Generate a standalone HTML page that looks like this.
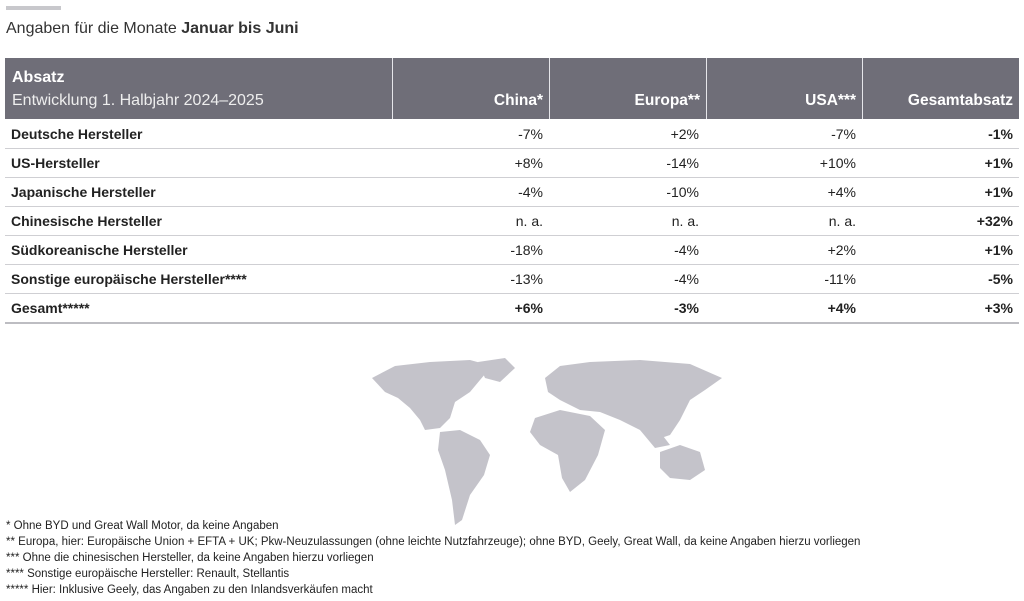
<!DOCTYPE html>
<html><head><meta charset="utf-8"><style>
body{margin:0;width:1024px;height:601px;background:#fff;font-family:"Liberation Sans",sans-serif;position:relative;overflow:hidden;color:#222}
.bar{position:absolute;left:6px;top:6px;width:55px;height:4px;background:#c8c8cc}
.title{position:absolute;left:6px;top:20px;font-size:16px;color:#333}
.hdr{position:absolute;left:5px;top:58px;width:1014px;height:61px;background:#6f6e78}
.hc{position:absolute;top:0;height:61px;border-left:1px solid #e6e6ea;color:#fff;font-weight:bold;font-size:15.5px;box-sizing:border-box}
.hc span{position:absolute;right:6px;bottom:9px}
.row{position:absolute;left:5px;width:1014px;height:29px;border-bottom:1px solid #cfcfd3;font-size:14px}
.row div{position:absolute;top:7px}
.l{left:6px;font-weight:bold}
.c1{right:476px}.c2{right:320px}.c3{right:163px}.c4{right:6px;font-weight:bold}
.b{font-weight:bold}
.fn{position:absolute;left:6px;top:519px;font-size:11.5px;line-height:15.9px;color:#222}
</style></head><body>
<div class="bar"></div>
<div class="title">Angaben für die Monate <b>Januar bis Juni</b></div>
<div class="hdr">
<div style="position:absolute;left:7px;top:8px;color:#fff;font-size:16px;line-height:23px"><b>Absatz</b><br><span style="color:#eee">Entwicklung 1. Halbjahr 2024–2025</span></div>
<div class="hc" style="left:387px;width:157px"><span>China*</span></div>
<div class="hc" style="left:544px;width:157px"><span>Europa**</span></div>
<div class="hc" style="left:701px;width:156px"><span>USA***</span></div>
<div class="hc" style="left:857px;width:157px"><span>Gesamtabsatz</span></div>
</div>
<div class="row" style="top:119px"><div class="l">Deutsche Hersteller</div><div class="c1">-7%</div><div class="c2">+2%</div><div class="c3">-7%</div><div class="c4">-1%</div></div>
<div class="row" style="top:148px"><div class="l">US-Hersteller</div><div class="c1">+8%</div><div class="c2">-14%</div><div class="c3">+10%</div><div class="c4">+1%</div></div>
<div class="row" style="top:177px"><div class="l">Japanische Hersteller</div><div class="c1">-4%</div><div class="c2">-10%</div><div class="c3">+4%</div><div class="c4">+1%</div></div>
<div class="row" style="top:206px"><div class="l">Chinesische Hersteller</div><div class="c1">n. a.</div><div class="c2">n. a.</div><div class="c3">n. a.</div><div class="c4">+32%</div></div>
<div class="row" style="top:235px"><div class="l">Südkoreanische Hersteller</div><div class="c1">-18%</div><div class="c2">-4%</div><div class="c3">+2%</div><div class="c4">+1%</div></div>
<div class="row" style="top:264px"><div class="l">Sonstige europäische Hersteller****</div><div class="c1">-13%</div><div class="c2">-4%</div><div class="c3">-11%</div><div class="c4">-5%</div></div>
<div class="row" style="top:293px;border-bottom:2px solid #bdbdc2"><div class="l">Gesamt*****</div><div class="c1 b">+6%</div><div class="c2 b">-3%</div><div class="c3 b">+4%</div><div class="c4">+3%</div></div>
<svg style="position:absolute;left:0;top:0" width="1024" height="601">
<g fill="#c4c3ca">
<path d="M372 378 L395 366 L430 362 L470 360 L492 366 L480 380 L470 392 L455 402 L450 418 L440 428 L425 430 L420 420 L410 408 L398 398 L385 392 Z"/>
<path d="M478 362 L505 358 L515 368 L500 382 L485 378 Z"/>
<path d="M440 432 L460 430 L480 440 L490 455 L484 475 L470 495 L462 520 L455 525 L452 500 L445 470 L438 450 Z"/>
<path d="M545 378 L560 366 L590 362 L640 360 L690 364 L722 378 L705 390 L690 400 L680 420 L670 435 L655 440 L640 430 L620 420 L600 412 L580 410 L560 400 L548 392 Z"/>
<path d="M535 418 L560 410 L590 416 L605 430 L598 455 L585 480 L570 492 L562 478 L558 455 L540 445 L530 432 Z"/>
<path d="M660 452 L680 445 L700 452 L705 470 L690 480 L670 478 L660 468 Z"/>
<path d="M640 430 L660 432 L670 445 L655 448 Z"/>
</g></svg>
<div class="fn">* Ohne BYD und Great Wall Motor, da keine Angaben<br>** Europa, hier: Europäische Union + EFTA + UK; Pkw-Neuzulassungen (ohne leichte Nutzfahrzeuge); ohne BYD, Geely, Great Wall, da keine Angaben hierzu vorliegen<br>*** Ohne die chinesischen Hersteller, da keine Angaben hierzu vorliegen<br>**** Sonstige europäische Hersteller: Renault, Stellantis<br>***** Hier: Inklusive Geely, das Angaben zu den Inlandsverkäufen macht</div>
</body></html>
